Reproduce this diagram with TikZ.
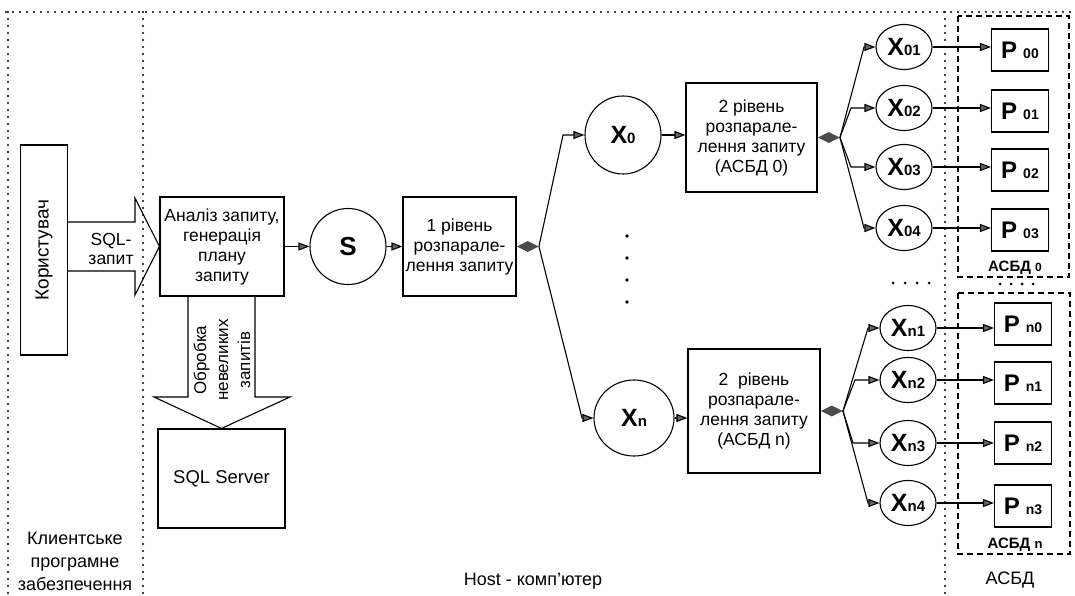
\documentclass[tikz,border=0pt]{standalone}
\usepackage{fontspec}
\setmainfont{Liberation Sans}
\usetikzlibrary{arrows.meta,shapes.geometric}
\newcommand{\mylab}[2]{{\bfseries\fontsize{25}{25}\selectfont #1}{\bfseries\fontsize{15}{15}\selectfont #2}}
\newcommand{\plab}[2]{{\bfseries\fontsize{24}{24}\selectfont #1}\hspace{6pt}{\bfseries\fontsize{14}{14}\selectfont #2}}
\begin{document}
\begin{tikzpicture}[x=1pt,y=-1pt,
 box/.style={draw, line width=1.1pt, align=center, inner sep=0pt, font=\fontsize{17.5}{20}\selectfont},
 circ/.style={draw, ellipse, line width=1.1pt, inner sep=0pt},
 ell/.style={draw, ellipse, line width=1.1pt, minimum width=56pt, minimum height=45pt, inner sep=0pt},
 pbox/.style={draw, line width=1.1pt, minimum width=57pt, minimum height=42pt, inner sep=0pt},
 arr/.style={line width=1.1pt, -{Triangle[length=11pt,width=8pt,fill=black!60]}},
 dotline/.style={line width=2.3pt, dash pattern=on 0pt off 7pt, line cap=round},
 dashline/.style={line width=1.1pt, dash pattern=on 6pt off 4pt},
 diam/.style={diamond, fill=black!70, inner sep=0pt, minimum width=22pt, minimum height=11pt},
 lbl/.style={font=\fontsize{18}{23}\selectfont, align=center},
 small/.style={font=\bfseries\fontsize{15}{15}\selectfont},
]
\useasboundingbox (0,0) rectangle (1075,596);

% frames
\coordinate (tl) at (6,12);
\coordinate (tr) at (1075,12);
\draw[dotline] (tl) -- (tr);
\draw[dotline] (8,12) -- (8,596);
\draw[dotline] (143,12) -- (143,596);
\draw[dotline] (945,12) -- (945,596);
\draw[dashline] (958,16) rectangle (1069,277);
\draw[dashline] (958,293) rectangle (1070,554);

% left part
\node[box, minimum width=47pt, minimum height=210pt] (user) at (44,250) {};
\node[lbl, rotate=90, font=\fontsize{19}{23}\selectfont] (usertxt) at (user.center) {Користувач};
\node[box, minimum width=124pt, minimum height=99pt] (an) at (222,246.5) {Аналіз запиту,\\генерація\\плану\\запиту};
\node[box, minimum width=127pt, minimum height=99pt, font=\fontsize{18.5}{20}\selectfont] (ssrv) at (221.5,478.5) {SQL Server};

% SQL block arrow
\draw[line width=1.1pt] (user.east |- 0,222) -- (135,222) -- (135,198) -- (an.west) -- (135,295) -- (135,271) -- (user.east |- 0,271);
\node[lbl, font=\fontsize{17.5}{19}\selectfont] (sqltxt) at (111,249) {SQL-\\запит};

% down block arrow
\draw[line width=1.1pt] (188,296) -- (188,397) -- (154,397) -- (ssrv.north) -- (290,397) -- (255,397) -- (255,296);
\node[lbl, rotate=90, font=\fontsize{17}{22}\selectfont] (smalltxt) at (222,360) {Обробка\\невеликих\\запитів};

% S and level 1
\node[circ, minimum width=76pt, minimum height=76pt] (S) at (348,246.5) {\bfseries\fontsize{26}{26}\selectfont S};
\node[box, minimum width=113pt, minimum height=99pt] (b1) at (459.5,246.5) {1 рівень\\розпарале-\\лення запиту};
\draw[arr] (an.east) -- (S.west);
\draw[arr] (S.east) -- (b1.west);
\node[diam, anchor=west] (d1) at (b1.east) {};

\node[circ, minimum width=76pt, minimum height=78pt] (X0) at (623,135) {\mylab{X}{0}};
\node[circ, minimum width=80pt, minimum height=76pt] (Xn) at (634,418) {\mylab{X}{n}};
\draw[arr] (d1.east) -- (563,135) -- (X0.west);
\draw[arr] (d1.east) -- (582,418) -- (Xn.west);

\node[box, minimum width=131pt, minimum height=109pt] (b20) at (751.5,137.5) {2 рівень\\розпарале-\\лення запиту\\(АСБД 0)};
\node[box, minimum width=132pt, minimum height=124pt] (b2n) at (754,411) {2\ \ рівень\\розпарале-\\лення запиту\\(АСБД n)};
\draw[arr] (X0.east) -- (b20.west |- X0.east);
\draw[arr] (Xn.east) -- (b2n.west |- Xn.east);
\node[diam, anchor=west] (d20) at (b20.east) {};
\node[diam, anchor=west] (d2n) at (b2n.east) {};

% vertical dots
\foreach \yy in {236,258,280,302} \fill (627,\yy) circle (1.8pt);

% level-2 ellipses (group 0)
\node[ell] (X01) at (904,47) {\mylab{X}{01}};
\node[ell] (X02) at (904,108) {\mylab{X}{02}};
\node[ell] (X03) at (904,167) {\mylab{X}{03}};
\node[ell] (X04) at (904,228) {\mylab{X}{04}};
\draw[arr] (d20.east) -- (864,47) -- (X01.west);
\draw[arr] (d20.east) -- (851,108) -- (X02.west);
\draw[arr] (d20.east) -- (851,167) -- (X03.west);
\draw[arr] (d20.east) -- (864,228) -- (X04.west);

% level-2 ellipses (group n)
\node[ell] (Xn1) at (908,328) {\mylab{X}{n1}};
\node[ell] (Xn2) at (908,380) {\mylab{X}{n2}};
\node[ell] (Xn3) at (908,443) {\mylab{X}{n3}};
\node[ell] (Xn4) at (908,503) {\mylab{X}{n4}};
\draw[arr] (d2n.east) -- (868,328) -- (Xn1.west);
\draw[arr] (d2n.east) -- (855,380) -- (Xn2.west);
\draw[arr] (d2n.east) -- (853,443) -- (Xn3.west);
\draw[arr] (d2n.east) -- (868,503) -- (Xn4.west);

% P boxes
\node[pbox] (P00) at (1020,50) {\plab{P}{00}};
\node[pbox] (P01) at (1020,111) {\plab{P}{01}};
\node[pbox] (P02) at (1020,170) {\plab{P}{02}};
\node[pbox] (P03) at (1020,230) {\plab{P}{03}};
\node[pbox] (Pn0) at (1023,324) {\plab{P}{n0}};
\node[pbox] (Pn1) at (1023,383) {\plab{P}{n1}};
\node[pbox] (Pn2) at (1023,443) {\plab{P}{n2}};
\node[pbox] (Pn3) at (1023,506) {\plab{P}{n3}};
\foreach \a/\b in {X01/P00,X02/P01,X03/P02,X04/P03,Xn1/Pn0,Xn2/Pn1,Xn3/Pn2,Xn4/Pn3}
  \draw[arr] (\a.east) -- (\b.west |- \a.east);

% dot rows
\foreach \xx in {893,905,917,929} \fill (\xx,283) circle (1.5pt);
\foreach \xx in {1000,1011,1022,1033} \fill (\xx,284) circle (1.5pt);

% labels
\node[small] (asbd0) at (1015,268) {АСБД {\fontsize{12}{12}\selectfont 0}};
\node[small] (asbdn) at (1015,545) {АСБД {\fontsize{13}{13}\selectfont n}};
\node[lbl] (asbd) at (1010,580) {АСБД};
\node[lbl] (host) at (533,581) {Host - комп'ютер};
\node[lbl] (client) at (75,561) {Клиентське\\програмне\\забезпечення};
\end{tikzpicture}
\end{document}
